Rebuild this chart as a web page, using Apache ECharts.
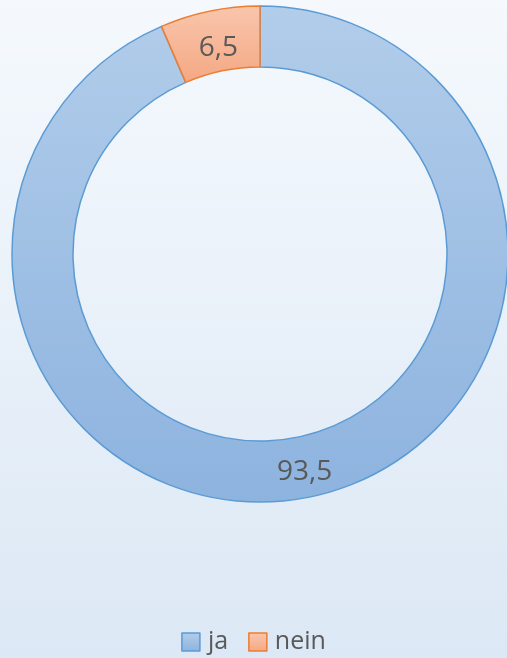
<!DOCTYPE html>
<html>
<head>
<meta charset="utf-8">
<script src="https://cdn.jsdelivr.net/npm/echarts@6/dist/echarts.min.js"></script>
<style>
html, body { margin: 0; padding: 0; }
#chart { width: 507px; height: 658px; }
</style>
</head>
<body>
<div id="chart"></div>
<script>
var categories = ['ja', 'nein'];
var values = [93.5, 6.5];

var fills = [
    ['#b2cdea', '#8db3df'],
    ['#f9c6ac', '#f4a884']
];
var borders = ['#5b9bd5', '#ed7d31'];
// kleine Verschiebung der Beschriftung wie im Original
var labelOffsets = [[0, 2], [3, 10]];

var chart = echarts.init(document.getElementById('chart'));

var seriesData = categories.map(function (name, i) {
    return {
        name: name,
        value: values[i],
        itemStyle: {
            color: new echarts.graphic.LinearGradient(0, 0, 0, 1, [
                { offset: 0, color: fills[i][0] },
                { offset: 1, color: fills[i][1] }
            ]),
            borderColor: borders[i],
            borderWidth: 1.5
        },
        label: { offset: labelOffsets[i] }
    };
});

chart.setOption({
    backgroundColor: new echarts.graphic.LinearGradient(0, 0, 0, 1, [
        { offset: 0, color: '#f5f9fd' },
        { offset: 1, color: '#dce8f5' }
    ]),
    animation: false,
    legend: {
        data: categories,
        top: 628,
        left: 'center',
        padding: 0,
        icon: 'rect',
        itemWidth: 18,
        itemHeight: 18,
        itemGap: 20,
        itemStyle: { borderWidth: 1.5 },
        textStyle: {
            fontFamily: 'Open Sans', fontSize: 25, lineHeight: 28,
            color: '#595959', padding: [0, 0, 0, 3]
        }
    },
    series: [{
        type: 'pie',
        center: [260, 254],
        radius: [187, 248],
        startAngle: 90,
        clockwise: true,
        data: seriesData,
        label: {
            show: true,
            position: 'inside',
            formatter: function (p) { return String(p.value).replace('.', ','); },
            fontFamily: 'Open Sans',
            fontSize: 28,
            color: '#595959'
        },
        labelLine: { show: false },
        emphasis: { disabled: true }
    }]
});
</script>
</body>
</html>
